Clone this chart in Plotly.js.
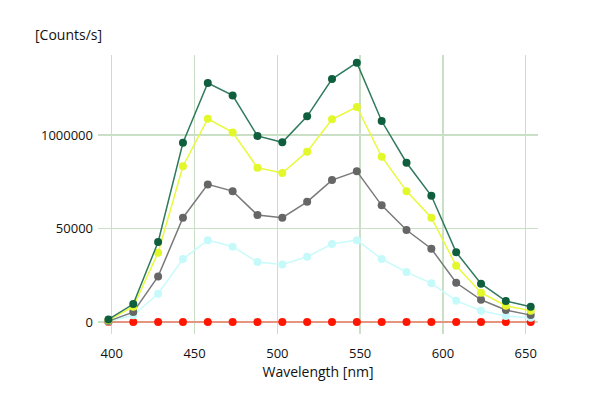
<!DOCTYPE html>
<html>
<head>
<meta charset="utf-8">
<script src="https://cdn.plot.ly/plotly-3.0.1.min.js"></script>
<style>html,body{margin:0;padding:0;background:#fff;}#chart{width:600px;height:395px;}</style>
</head>
<body>
<div id="chart"></div>
<script>
const wavelengths = [398, 413, 428, 443, 458, 473, 488, 503, 518, 533, 548, 563, 578, 593, 608, 623, 638, 653];
const seriesDarkGreen = [14000, 96000, 428000, 959000, 1278000, 1212000, 995000, 961000, 1100000, 1299000, 1387000, 1075000, 852000, 675000, 373000, 205000, 112000, 82000];
const seriesYellow = [10000, 82000, 371000, 833000, 1087000, 1014000, 825000, 797000, 911000, 1084000, 1150000, 884000, 700000, 558000, 301000, 157000, 87000, 60000];
const seriesGray = [5000, 53000, 244000, 558000, 736000, 700000, 572000, 558000, 643000, 759000, 806000, 624000, 492000, 392000, 210000, 119000, 64000, 37000];
const seriesCyan = [3000, 36000, 151000, 337000, 438000, 403000, 321000, 308000, 349000, 417000, 438000, 337000, 267000, 207000, 114000, 60000, 32000, 23000];
const seriesRed = [0, 0, 0, 0, 0, 0, 0, 0, 0, 0, 0, 0, 0, 0, 0, 0, 0, 0];
const xTickVals = [400, 450, 500, 550, 600, 650];
const yTickVals = [0, 500000, 1000000];
const yTickText = ["0", "50000", "1000000"];

function tr(y, lineColor, markerColor) {
  return {
    x: wavelengths, y: y, type: 'scatter', mode: 'lines+markers',
    line: {color: lineColor, width: 1.5},
    marker: {color: markerColor, size: 8},
    cliponaxis: false, hoverinfo: 'none'
  };
}
const data = [
  tr(seriesRed, 'rgba(245,110,95,0.9)', '#ff1500'),
  tr(seriesCyan, '#c9fbfb', '#c6fafa'),
  tr(seriesGray, '#7a7a7a', '#666666'),
  tr(seriesYellow, '#e8fa3c', '#e2f82a'),
  tr(seriesDarkGreen, '#2f7a5c', '#0f5e3e')
];
const font = {family: '"Open Sans", "Noto Sans", sans-serif', size: 13, color: '#111'};
const layout = {
  width: 600, height: 395,
  margin: {l: 98, r: 62, t: 55, b: 61},
  paper_bgcolor: '#fff', plot_bgcolor: '#fff',
  showlegend: false,
  font: font,
  xaxis: {
    range: [391.7, 657.4], tickvals: xTickVals, ticks: '',
    showgrid: true, gridcolor: '#c9dfc6', gridwidth: 1.3,
    zeroline: false, showline: false,
    ticklabelstandoff: 10,
    tickfont: {family: font.family, size: 13, color: '#111'},
    title: {text: 'Wavelength [nm]', font: {family: font.family, size: 14, color: '#111'}, standoff: 6}
  },
  yaxis: {
    range: [-64000, 1428000], tickvals: yTickVals, ticktext: yTickText, ticks: '',
    showgrid: true, gridcolor: '#c9dfc6', gridwidth: 1.3,
    zeroline: false, showline: false,
    tickfont: {family: font.family, size: 13, color: '#111'},
    ticklabelstandoff: 4
  },
  annotations: [{
    text: '[Counts/s]', xref: 'paper', yref: 'paper', x: -0.148, y: 1.0, yshift: 9,
    xanchor: 'left', yanchor: 'bottom', showarrow: false,
    font: {family: font.family, size: 14, color: '#111'}
  }]
};
Plotly.newPlot('chart', data, layout, {staticPlot: true, displayModeBar: false});
</script>
</body>
</html>
